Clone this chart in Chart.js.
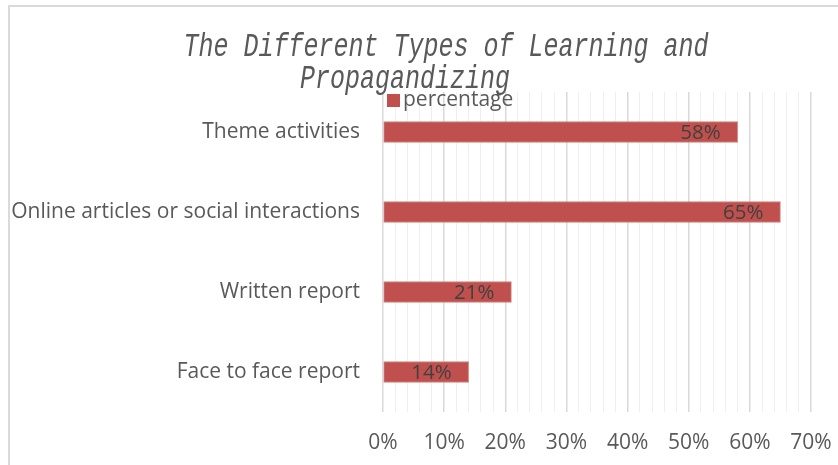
<!DOCTYPE html>
<html>
<head>
<meta charset="utf-8">
<script src="https://cdn.jsdelivr.net/npm/chart.js@4"></script>
<style>
  html, body { margin: 0; padding: 0; background: #fff; overflow: hidden; }
  #wrap { position: relative; width: 838px; height: 465px; }
  #frame { position: absolute; left: 8px; top: 5px; width: 900px; height: 520px; border: 2px solid #dadada; box-sizing: border-box; }
  #chart { position: absolute; left: 0; top: 0; }
</style>
</head>
<body>
<div id="wrap">
  <div id="frame"></div>
  <canvas id="chart" width="838" height="465"></canvas>
</div>
<script>
// data
const categories = ['Theme activities', 'Online articles or social interactions', 'Written report', 'Face to face report'];
const percentage = [58, 65, 21, 14];
const seriesName = 'percentage';
const titleLines = ['The Different Types of Learning and', 'Propagandizing'];
const axisMax = 70;

const barColor = '#C0504D';
const textGrey = '#595959';
const labelFont = '"Open Sans", "Noto Sans", sans-serif';

// title + legend drawn like the office chart (legend sits on top of title line 2)
const headerPlugin = {
    id: 'header',
    afterDraw(chart) {
        const ctx = chart.ctx;
        ctx.save();
        ctx.fillStyle = textGrey;
        ctx.font = 'italic 25px "Liberation Mono", "DejaVu Sans Mono", monospace';
        ctx.textAlign = 'center';
        ctx.textBaseline = 'alphabetic';
        // the original font is taller than Courier, stretch a bit
        ctx.save();
        ctx.scale(1, 1.3);
        ctx.fillText(titleLines[0], 446, 56 / 1.3);
        ctx.fillText(titleLines[1], 405, 88 / 1.3);
        ctx.restore();

        ctx.fillStyle = barColor;
        ctx.fillRect(387, 94, 13, 13);
        ctx.fillStyle = textGrey;
        ctx.font = '21px ' + labelFont;
        ctx.textAlign = 'left';
        ctx.textBaseline = 'middle';
        ctx.fillText(seriesName, 403, 100);
        ctx.restore();
    }
};

// value labels inside the bar end
const valueLabels = {
    id: 'valueLabels',
    afterDatasetsDraw(chart) {
        const ctx = chart.ctx;
        const meta = chart.getDatasetMeta(0);
        ctx.save();
        ctx.fillStyle = '#404040';
        ctx.font = '20.5px ' + labelFont;
        ctx.textAlign = 'right';
        ctx.textBaseline = 'middle';
        meta.data.forEach((bar, i) => {
            ctx.fillText(percentage[i] + '%', bar.x - 17, bar.y + 1);
        });
        ctx.restore();
    }
};

new Chart(document.getElementById('chart').getContext('2d'), {
    type: 'bar',
    data: {
        labels: categories,
        datasets: [{
            label: seriesName,
            data: percentage,
            backgroundColor: barColor,
            borderColor: '#d2827f',
            borderWidth: 1,
            borderSkipped: false,
            barThickness: 21
        }]
    },
    options: {
        indexAxis: 'y',
        responsive: false,
        animation: false,
        layout: { padding: { left: 0, top: 92, right: 27, bottom: 0 } },
        plugins: {
            legend: { display: false },
            title: { display: false },
            tooltip: { enabled: false }
        },
        scales: {
            x: {
                min: 0,
                max: axisMax,
                border: { display: false },
                grid: {
                    drawTicks: false,
                    color: c => (c.tick && c.tick.value % 10 === 0) ? '#d9d9d9' : '#efefef',
                    lineWidth: c => (c.tick && c.tick.value % 10 === 0) ? 1.5 : 1
                },
                ticks: {
                    stepSize: 2,
                    autoSkip: false,
                    maxRotation: 0,
                    padding: 18,
                    color: textGrey,
                    font: { family: labelFont, size: 21 },
                    callback: v => v % 10 === 0 ? v + '%' : ''
                },
                afterFit: s => { s.height = 53; s.paddingLeft = 0; s.paddingRight = 0; }
            },
            y: {
                border: { display: false },
                grid: { display: false, drawTicks: false },
                ticks: {
                    padding: 23,
                    color: textGrey,
                    font: { family: labelFont, size: 21 }
                },
                afterFit: s => { s.width = 383; }
            }
        }
    },
    plugins: [headerPlugin, valueLabels]
});
</script>
</body>
</html>
